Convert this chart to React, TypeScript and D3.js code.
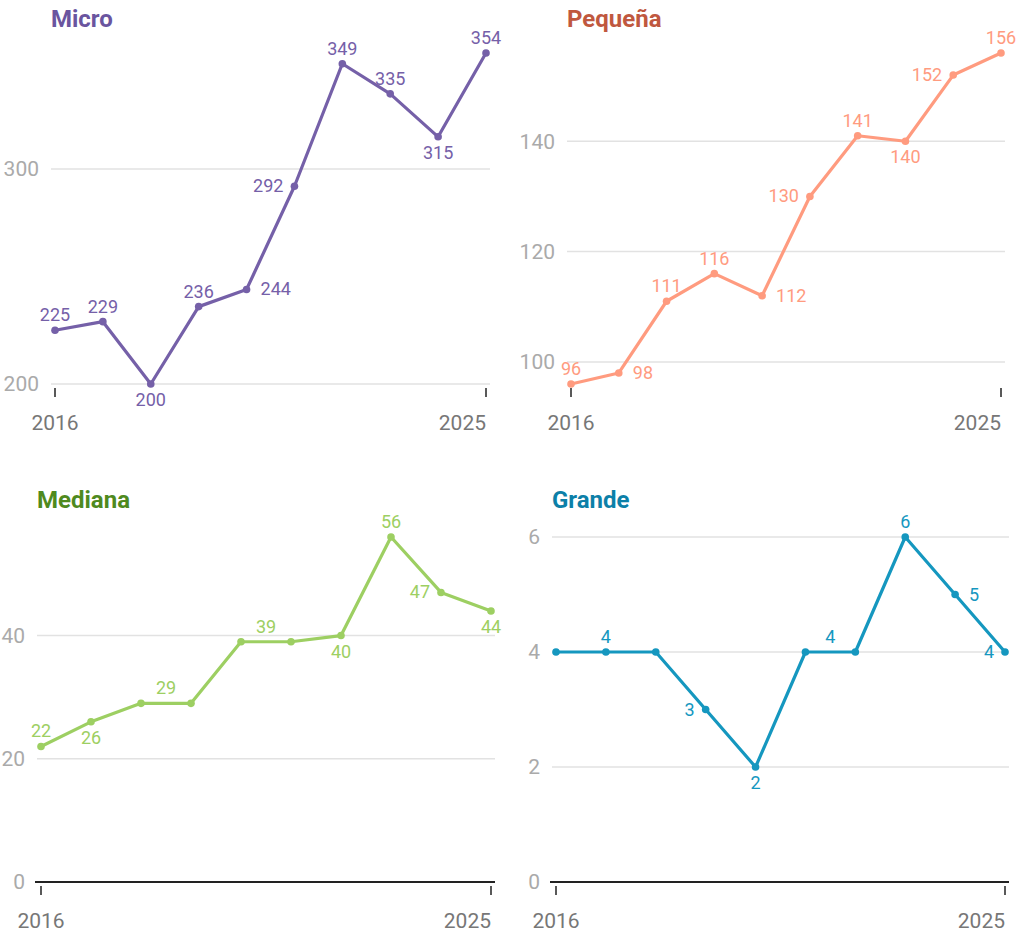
import * as d3 from "d3";

const years = [2016, 2017, 2018, 2019, 2020, 2021, 2022, 2023, 2024, 2025];

const microValues = [225, 229, 200, 236, 244, 292, 349, 335, 315, 354];
const pequenaValues = [96, 98, 111, 116, 112, 130, 141, 140, 152, 156];
const medianaValues = [22, 26, 29, 29, 39, 39, 40, 56, 47, 44];
const grandeValues = [4, 4, 4, 3, 2, 4, 4, 6, 5, 4];

const microTicks = [200, 300];
const pequenaTicks = [100, 120, 140];
const medianaTicks = [0, 20, 40];
const grandeTicks = [0, 2, 4, 6];

// where each value label sits: t top, b bottom, l left, r right, tn top between this and next, "" none
const microLabels = ["t", "t", "b", "t", "r", "l", "t", "t", "b", "t"];
const pequenaLabels = ["t", "r", "t", "t", "r", "l", "t", "b", "l", "t"];
const medianaLabels = ["t", "b", "tn", "", "tn", "", "b", "t", "l", "b"];
const grandeLabels = ["", "t", "", "l", "b", "tn", "", "t", "r", "l"];

const FONT = "Roboto, 'Noto Sans', sans-serif";

interface PanelProps {
  title: string;
  values: number[];
  ticks: number[];
  labels: string[];
  color: string;
  titleColor: string;
  x0: number;
  x1: number;
  yBottom: number;
  yTop: number;
  zeroBased: boolean;
  titleY: number;
}

function Panel(p: PanelProps) {
  const x = d3.scaleLinear().domain([years[0], years[years.length - 1]]).range([p.x0, p.x1]);
  const lo = p.zeroBased ? 0 : (d3.min(p.values) as number);
  const hi = d3.max(p.values) as number;
  const y = d3.scaleLinear().domain([lo, hi]).range([p.yBottom, p.yTop]);
  const line = d3
    .line<number>()
    .x((_, i) => x(years[i]))
    .y((d) => y(d));
  const gx0 = p.x0 - 4;
  const gx1 = p.x1 + 4;
  const step = x(years[1]) - x(years[0]);

  return (
    <g>
      <text x={gx0} y={p.titleY} fontSize={24} fontWeight={700} fill={p.titleColor} fontFamily={FONT}>
        {p.title}
      </text>
      {p.ticks.map((t) => (
        <g key={t}>
          {!(p.zeroBased && t === 0) && (
            <line x1={gx0} x2={gx1} y1={y(t)} y2={y(t)} stroke="#e2e2e2" strokeWidth={1.5} />
          )}
          <text
            x={gx0 - 12}
            y={y(t)}
            dy="0.35em"
            textAnchor="end"
            fontSize={21}
            fill="#aaaaaa"
            fontFamily={FONT}
          >
            {t}
          </text>
        </g>
      ))}
      {p.zeroBased && (
        <line x1={gx0 - 2} x2={gx1} y1={y(0)} y2={y(0)} stroke="#222" strokeWidth={2} />
      )}
      {[years[0], years[years.length - 1]].map((yr, i) => (
        <g key={yr}>
          <line
            x1={x(yr)}
            x2={x(yr)}
            y1={p.yBottom + 4}
            y2={p.yBottom + 13}
            stroke="#222"
            strokeWidth={1.5}
          />
          <text
            x={x(yr)}
            y={p.yBottom + 46}
            textAnchor={i === 0 ? "middle" : "end"}
            fontSize={21}
            fill="#777"
            fontFamily={FONT}
          >
            {yr}
          </text>
        </g>
      ))}
      <path d={line(p.values) || ""} fill="none" stroke={p.color} strokeWidth={3.2} strokeLinejoin="round" />
      {p.values.map((v, i) => (
        <circle key={i} cx={x(years[i])} cy={y(v)} r={3.8} fill={p.color} />
      ))}
      {p.values.map((v, i) => {
        const pos = p.labels[i];
        if (!pos) return null;
        let lx = x(years[i]);
        let ly = y(v);
        let anchor: "middle" | "start" | "end" = "middle";
        if (pos === "t") ly -= 9;
        else if (pos === "tn") {
          lx += step / 2;
          ly -= 9;
        } else if (pos === "b") ly += 22;
        else if (pos === "l") {
          lx -= 11;
          ly += 6;
          anchor = "end";
        } else if (pos === "r") {
          lx += 14;
          ly += 6;
          anchor = "start";
        }
        return (
          <text key={"l" + i} x={lx} y={ly} textAnchor={anchor} fontSize={18} fill={p.color} fontFamily={FONT}>
            {v}
          </text>
        );
      })}
    </g>
  );
}

export default function App() {
  return (
    <svg
      width={1019}
      height={936}
      style={{ position: "absolute", left: 0, top: 0, background: "#fff" }}
    >
      <Panel
        title="Micro"
        values={microValues}
        ticks={microTicks}
        labels={microLabels}
        color="#7560a8"
        titleColor="#6a559f"
        x0={55}
        x1={486}
        yBottom={384}
        yTop={53}
        zeroBased={false}
        titleY={27}
      />
      <Panel
        title="Pequeña"
        values={pequenaValues}
        ticks={pequenaTicks}
        labels={pequenaLabels}
        color="#ff9b7f"
        titleColor="#c0583f"
        x0={571}
        x1={1001}
        yBottom={384}
        yTop={53}
        zeroBased={false}
        titleY={27}
      />
      <Panel
        title="Mediana"
        values={medianaValues}
        ticks={medianaTicks}
        labels={medianaLabels}
        color="#9dcf62"
        titleColor="#4f8a1e"
        x0={41}
        x1={491}
        yBottom={882}
        yTop={537}
        zeroBased={true}
        titleY={508}
      />
      <Panel
        title="Grande"
        values={grandeValues}
        ticks={grandeTicks}
        labels={grandeLabels}
        color="#1597bf"
        titleColor="#0c80a8"
        x0={556}
        x1={1005}
        yBottom={882}
        yTop={537}
        zeroBased={true}
        titleY={508}
      />
    </svg>
  );
}
